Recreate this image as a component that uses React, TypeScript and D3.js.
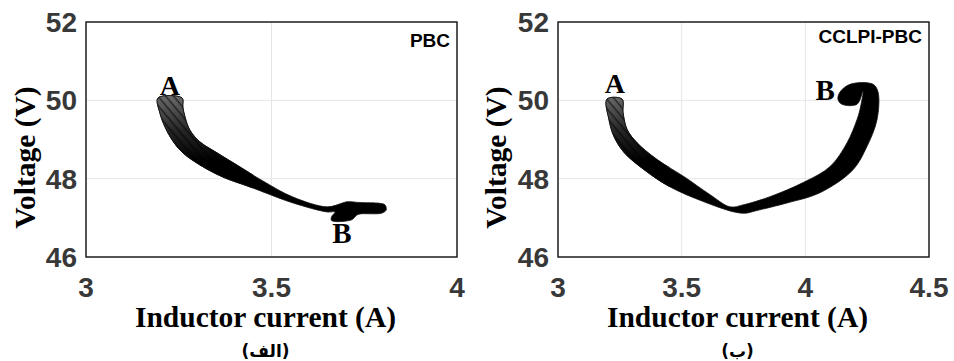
import * as d3 from 'd3'

// y axis shared by both panels
const voltageTicks = [46, 48, 50, 52]
const pbcCurrentTicks = [3, 3.5, 4]
const cclpiCurrentTicks = [3, 3.5, 4, 4.5]

// PBC trajectory band: lower edge A->B, the blob round B, upper edge A->B  [current, voltage]
const pbcLowerEdge: [number, number][] = [
  [3.194, 50.06], [3.199, 49.68], [3.213, 49.32], [3.232, 48.99], [3.261, 48.66],
  [3.307, 48.35], [3.369, 48.04], [3.442, 47.79], [3.558, 47.38], [3.65, 47.15], [3.671, 47.15],
]
const pbcBlob: [number, number][] = [
  [3.662, 47.03], [3.662, 46.93], [3.716, 46.95], [3.73, 47.07], [3.739, 47.1],
  [3.797, 47.12], [3.809, 47.2], [3.806, 47.33], [3.792, 47.37], [3.739, 47.39],
  [3.703, 47.41], [3.689, 47.37],
]
const pbcUpperEdge: [number, number][] = [
  [3.259, 50.06], [3.261, 49.83], [3.267, 49.57], [3.28, 49.24], [3.307, 48.94],
  [3.353, 48.66], [3.415, 48.3], [3.477, 47.94], [3.558, 47.53], [3.65, 47.28],
]

// CCLPI-PBC trajectory band: outer edge runs A -> min -> round the hook at B
const cclpiOuterEdge: [number, number][] = [
  [3.198, 50.03], [3.206, 49.51], [3.226, 49.08], [3.267, 48.67], [3.348, 48.23],
  [3.453, 47.79], [3.59, 47.41], [3.712, 47.15], [3.76, 47.12], [3.8, 47.18],
  [3.926, 47.38], [4.059, 47.64], [4.193, 48.23], [4.249, 48.82], [4.29, 49.51],
  [4.294, 50.21], [4.274, 50.41], [4.181, 50.41], [4.14, 50.21], [4.132, 50.03],
  [4.148, 49.9], [4.209, 49.9], [4.233, 50.23],
]
const cclpiInnerEdge: [number, number][] = [
  [3.259, 50.03], [3.263, 49.69], [3.279, 49.26], [3.319, 48.92], [3.4, 48.49],
  [3.51, 48.05], [3.615, 47.59], [3.696, 47.28], [3.748, 47.33], [3.857, 47.54],
  [3.991, 47.9], [4.1, 48.31], [4.169, 48.92], [4.209, 49.51], [4.221, 49.77],
]

const yScale = d3.scaleLinear().domain([46, 52]).range([257, 22])

interface PanelProps {
  id: string
  x: d3.ScaleLinear<number, number>
  xTicks: number[]
  band: [number, number][]
  method: string
  methodDy: number
  labelA: [number, number]
  labelB: [number, number]
  caption: string
  titleX: number
}

function Panel({ id, x, xTicks, band, method, methodDy, labelA, labelB, caption, titleX }: PanelProps) {
  const [x0, x1] = x.range()
  const [y0, y1] = yScale.range()
  const mid = (x0 + x1) / 2
  const path = d3
    .line<[number, number]>()
    .x((d) => x(d[0]))
    .y((d) => yScale(d[1]))
    .curve(d3.curveCatmullRomClosed.alpha(0.5))(band) ?? ''

  return (
    <g>
      <defs>
        <linearGradient id={`shade-${id}`} gradientUnits="userSpaceOnUse" x1={0} x2={0} y1={yScale(50.1)} y2={yScale(47.9)}>
          <stop offset="0" stopColor="#6a6a6a" />
          <stop offset="0.4" stopColor="#262626" />
          <stop offset="0.75" stopColor="#000" />
        </linearGradient>
        <pattern id={`streak-${id}`} patternUnits="userSpaceOnUse" width={6} height={6} patternTransform="rotate(50)">
          <rect width={6} height={1.6} fill="#000" opacity={0.55} />
        </pattern>
        <clipPath id={`start-${id}`}>
          <rect x={x0} y={y1} width={x(3.45) - x0} height={y0 - y1} />
        </clipPath>
      </defs>

      {xTicks.map((t) => (
        <line key={`gx-${t}`} x1={x(t)} x2={x(t)} y1={y0} y2={y1} stroke="#e6e6e6" />
      ))}
      {voltageTicks.map((t) => (
        <line key={`gy-${t}`} x1={x0} x2={x1} y1={yScale(t)} y2={yScale(t)} stroke="#e6e6e6" />
      ))}

      <path d={path} fill="#000" stroke="#111" strokeWidth={0.8} />
      <g clipPath={`url(#start-${id})`}>
        <path d={path} fill={`url(#shade-${id})`} stroke="#111" strokeWidth={0.8} />
        <path d={path} fill={`url(#streak-${id})`} stroke="none" />
      </g>

      <rect x={x0} y={y1} width={x1 - x0} height={y0 - y1} fill="none" stroke="#111" strokeWidth={1.4} />

      {voltageTicks.map((t) => (
        <text key={`ty-${t}`} x={x0 - 9} y={yScale(t) + 10} textAnchor="end" fontFamily="Liberation Sans, Arial" fontWeight="bold" fontSize={28} fill="#383838">
          {t}
        </text>
      ))}
      {xTicks.map((t) => (
        <text key={`tx-${t}`} x={x(t)} y={297} textAnchor="middle" fontFamily="Liberation Sans, Arial" fontWeight="bold" fontSize={28} fill="#383838">
          {t}
        </text>
      ))}

      <text x={x1 - 7} y={y1 + methodDy} textAnchor="end" fontFamily="Liberation Sans, Arial" fontWeight="bold" fontSize={19} fill="#000">
        {method}
      </text>

      <text x={x(labelA[0])} y={yScale(labelA[1])} textAnchor="middle" fontFamily="Liberation Serif, Times New Roman" fontWeight="bold" fontSize={28}>
        A
      </text>
      <text x={x(labelB[0])} y={yScale(labelB[1])} textAnchor="middle" fontFamily="Liberation Serif, Times New Roman" fontWeight="bold" fontSize={29}>
        B
      </text>

      <text x={mid - 6} y={327} textAnchor="middle" fontFamily="Liberation Serif, Times New Roman" fontWeight="bold" fontSize={29.5}>
        Inductor current (A)
      </text>
      <text transform={`translate(${titleX},${(y0 + y1) / 2 + 18}) rotate(-90)`} textAnchor="middle" fontFamily="Liberation Serif, Times New Roman" fontWeight="bold" fontSize={29.5}>
        Voltage (V)
      </text>
      <text x={mid - 6} y={357} textAnchor="middle" fontFamily="DejaVu Sans" fontWeight="bold" fontSize={17} direction="rtl">
        {caption}
      </text>
    </g>
  )
}

export default function App() {
  const pbcX = d3.scaleLinear().domain([3, 4]).range([86, 457])
  const cclpiX = d3.scaleLinear().domain([3, 4.5]).range([558, 929])
  const pbcBand = [...pbcLowerEdge, ...pbcBlob, ...[...pbcUpperEdge].reverse()]
  const cclpiBand = [...cclpiOuterEdge, ...[...cclpiInnerEdge].reverse()]

  return (
    <svg width={954} height={361} style={{ position: 'absolute', left: 0, top: 0, background: '#fff' }}>
      <Panel
        id="pbc"
        x={pbcX}
        xTicks={pbcCurrentTicks}
        band={pbcBand}
        method="PBC"
        methodDy={25}
        labelA={[3.226, 50.14]}
        labelB={[3.69, 46.36]}
        caption="(الف)"
        titleX={35}
      />
      <Panel
        id="cclpi"
        x={cclpiX}
        xTicks={cclpiCurrentTicks}
        band={cclpiBand}
        method="CCLPI-PBC"
        methodDy={21}
        labelA={[3.23, 50.18]}
        labelB={[4.08, 50.0]}
        caption="(ب)"
        titleX={506}
      />
    </svg>
  )
}
